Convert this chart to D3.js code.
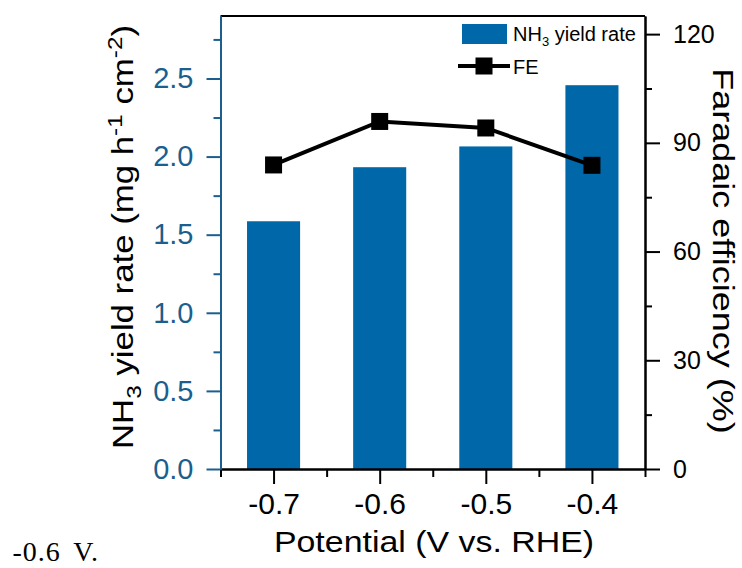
<!DOCTYPE html>
<html>
<head>
<meta charset="utf-8">
<script src="https://cdn.jsdelivr.net/npm/d3@7"></script>
<style>
  html, body { margin: 0; padding: 0; background: #fff; }
  svg { display: block; }
  text { font-family: "Liberation Sans", Arial, sans-serif; }
</style>
</head>
<body>
<svg id="chart" width="742" height="568"></svg>
<script>
// Potential (V vs. RHE) for each measurement
const potentials = [-0.7, -0.6, -0.5, -0.4];
// NH3 yield rate (mg h-1 cm-2)
const yieldRates = [1.586, 1.932, 2.065, 2.457];
// Faradaic efficiency (%)
const faradaicEff = [83.9, 95.9, 94.1, 83.8];

const xTickValues = [-0.7, -0.6, -0.5, -0.4];
const xMinorTicks = [-0.75, -0.65, -0.55, -0.45, -0.35];
const leftTickValues = [0.0, 0.5, 1.0, 1.5, 2.0, 2.5];
const leftMinorTicks = [0.25, 0.75, 1.25, 1.75, 2.25, 2.75];
const rightTickValues = [0, 30, 60, 90, 120];
const rightMinorTicks = [15, 45, 75, 105];

const barColor = "#0067a8";
const leftAxisColor = "#1b5f8e";

const svg = d3.select("#chart");
const plot = { left: 220.5, right: 645, top: 16, bottom: 469 };

const x = d3.scaleLinear().domain([-0.75, -0.35]).range([plot.left, plot.right]);
const yL = d3.scaleLinear().domain([0, 2.9]).range([plot.bottom, plot.top]);
const yR = d3.scaleLinear().domain([0, 125]).range([plot.bottom, plot.top]);
const barWidth = x(-0.65) - x(-0.7);

// Bars: NH3 yield rate
svg.append("g").selectAll("rect")
  .data(potentials)
  .join("rect")
  .attr("x", (d) => x(d) - barWidth / 2)
  .attr("width", barWidth)
  .attr("y", (d, i) => yL(yieldRates[i]))
  .attr("height", (d, i) => yL(0) - yL(yieldRates[i]))
  .attr("fill", barColor);

// Top frame line
svg.append("line")
  .attr("x1", plot.left).attr("x2", plot.right)
  .attr("y1", plot.top).attr("y2", plot.top)
  .attr("stroke", "#000").attr("stroke-width", 2);

function styleAxis(g, color, fontSize) {
  g.select(".domain").attr("stroke", color).attr("stroke-width", 2);
  g.selectAll(".tick line").attr("stroke", color).attr("stroke-width", 2);
  g.selectAll(".tick text")
    .attr("fill", color)
    .style("font-size", fontSize + "px")
    .style("font-family", '"Liberation Sans", Arial, sans-serif');
}

// Bottom axis
const gxMinor = svg.append("g")
  .attr("transform", `translate(0,${plot.bottom})`)
  .call(d3.axisBottom(x).tickValues(xMinorTicks).tickSize(8).tickSizeOuter(0).tickFormat(""));
styleAxis(gxMinor, "#000", 30);
const gx = svg.append("g")
  .attr("transform", `translate(0,${plot.bottom})`)
  .call(d3.axisBottom(x).tickValues(xTickValues).tickSize(15).tickSizeOuter(0)
    .tickPadding(9).tickFormat((d) => d.toFixed(1)));
styleAxis(gx, "#000", 30);

// Left axis (yield rate)
const gyMinor = svg.append("g")
  .attr("transform", `translate(${plot.left},0)`)
  .call(d3.axisLeft(yL).tickValues(leftMinorTicks).tickSize(7).tickSizeOuter(0).tickFormat(""));
styleAxis(gyMinor, leftAxisColor, 29);
const gy = svg.append("g")
  .attr("transform", `translate(${plot.left},0)`)
  .call(d3.axisLeft(yL).tickValues(leftTickValues).tickSize(14).tickSizeOuter(0)
    .tickPadding(13).tickFormat(d3.format(".1f")));
styleAxis(gy, leftAxisColor, 29);

// Right axis (Faradaic efficiency)
const grMinor = svg.append("g")
  .attr("transform", `translate(${plot.right},0)`)
  .call(d3.axisRight(yR).tickValues(rightMinorTicks).tickSize(7).tickSizeOuter(0).tickFormat(""));
styleAxis(grMinor, "#000", 25);
const gr = svg.append("g")
  .attr("transform", `translate(${plot.right},0)`)
  .call(d3.axisRight(yR).tickValues(rightTickValues).tickSize(15).tickSizeOuter(0)
    .tickPadding(13).tickFormat(d3.format("d")));
styleAxis(gr, "#000", 25);

// FE line with square markers
const feLine = d3.line()
  .x((d, i) => x(potentials[i]))
  .y((d) => yR(d));
svg.append("path")
  .datum(faradaicEff)
  .attr("d", feLine)
  .attr("fill", "none")
  .attr("stroke", "#000")
  .attr("stroke-width", 4);
const mk = 17;
svg.append("g").selectAll("rect")
  .data(faradaicEff)
  .join("rect")
  .attr("x", (d, i) => x(potentials[i]) - mk / 2)
  .attr("y", (d) => yR(d) - mk / 2)
  .attr("width", mk).attr("height", mk)
  .attr("fill", "#000");

// Legend
const legend = svg.append("g");
legend.append("rect")
  .attr("x", 462).attr("y", 24).attr("width", 45).attr("height", 20)
  .attr("fill", barColor);
const lt1 = legend.append("text").attr("x", 513).attr("y", 41).style("font-size", "20px").attr("fill", "#000");
lt1.append("tspan").text("NH");
lt1.append("tspan").attr("dy", 5).style("font-size", "13px").text("3");
lt1.append("tspan").attr("dy", -5).text(" yield rate");
legend.append("line")
  .attr("x1", 458).attr("x2", 510).attr("y1", 66).attr("y2", 66)
  .attr("stroke", "#000").attr("stroke-width", 4);
legend.append("rect")
  .attr("x", 484 - mk / 2).attr("y", 66 - mk / 2).attr("width", mk).attr("height", mk)
  .attr("fill", "#000");
legend.append("text").attr("x", 513).attr("y", 74).style("font-size", "20px").attr("fill", "#000").text("FE");

// Axis titles
svg.append("text")
  .attr("text-anchor", "middle")
  .attr("transform", "translate(434,552) scale(1.13,1)")
  .style("font-size", "30px")
  .attr("fill", "#000")
  .text("Potential (V vs. RHE)");

const lTitle = svg.append("text")
  .attr("text-anchor", "middle")
  .attr("transform", "translate(133,237) rotate(-90) scale(1.16,1)")
  .style("font-size", "30px")
  .attr("fill", "#000");
lTitle.append("tspan").text("NH");
lTitle.append("tspan").attr("dy", 8).style("font-size", "21px").text("3");
lTitle.append("tspan").attr("dy", -8).text(" yield rate (mg h");
lTitle.append("tspan").attr("dy", -11).style("font-size", "21px").text("-1");
lTitle.append("tspan").attr("dy", 11).text("  cm");
lTitle.append("tspan").attr("dy", -11).style("font-size", "21px").text("-2");
lTitle.append("tspan").attr("dy", 11).text(")");

svg.append("text")
  .attr("text-anchor", "middle")
  .attr("transform", "translate(713,251) rotate(90) scale(1.2,1)")
  .style("font-size", "30px")
  .attr("fill", "#000")
  .text("Faradaic efficiency (%)");

// Caption fragment below the figure
svg.append("text")
  .attr("x", 12.5).attr("y", 561)
  .style("font-family", '"Liberation Serif", "Times New Roman", serif')
  .style("font-size", "28px")
  .style("letter-spacing", "1px")
  .style("word-spacing", "5px")
  .attr("fill", "#000")
  .text("-0.6 V.");
</script>
</body>
</html>
